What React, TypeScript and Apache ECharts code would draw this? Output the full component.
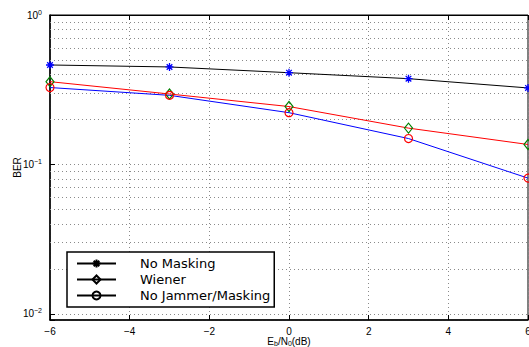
import React, { useEffect, useRef } from 'react';
import * as echarts from 'echarts';

const xValues = [-6, -3, 0, 3, 6];
const noMasking = [0.463, 0.449, 0.411, 0.375, 0.325];
const wiener = [0.358, 0.296, 0.244, 0.175, 0.136];
const noJammer = [0.327, 0.29, 0.222, 0.149, 0.081];
const minorGridValues = [0.02, 0.03, 0.04, 0.05, 0.06, 0.07, 0.08, 0.09, 0.2, 0.3, 0.4, 0.5, 0.6, 0.7, 0.8, 0.9];
const seriesNames = ['No Masking', 'Wiener', 'No Jammer/Masking'];

const FONT = 'Liberation Sans, Arial, sans-serif';
const ASTERISK = 'path://M5,0L5,10M0,5L10,5M1.5,1.5L8.5,8.5M1.5,8.5L8.5,1.5';

export default function App() {
  const ref = useRef<HTMLDivElement>(null);
  useEffect(() => {
    if (!ref.current) return;
    const chart = echarts.init(ref.current, undefined, { renderer: 'svg' });
    const pairs = (ys: number[]) => xValues.map((x, i) => [x, ys[i]]);
    const gridDot = { color: '#8a8a8a', type: [1, 3] as any, width: 1 };
    chart.setOption({
      animation: false,
      backgroundColor: '#fff',
      grid: {
        left: 50, right: 1, top: 15, bottom: 27,
        outerBoundsMode: 'none',
        containLabel: false,
        show: true, borderColor: '#000', borderWidth: 1, backgroundColor: 'transparent',
      },
      legend: {
        orient: 'vertical',
        left: 67,
        top: 252,
        padding: [5, 4, 5, 9],
        itemWidth: 39,
        itemHeight: 10,
        itemGap: 3,
        backgroundColor: '#fff',
        borderColor: '#000',
        borderWidth: 1.5,
        borderRadius: 0,
        textStyle: { fontFamily: 'DejaVu Sans, sans-serif', fontSize: 13, color: '#000', padding: [0, 0, 0, 19] },
        data: [
          { name: seriesNames[0], itemStyle: { color: '#000', borderColor: '#000' }, lineStyle: { color: '#000' } },
          { name: seriesNames[1], itemStyle: { color: 'rgba(0,0,0,0)', borderColor: '#000' }, lineStyle: { color: '#000' } },
          { name: seriesNames[2], itemStyle: { color: 'rgba(0,0,0,0)', borderColor: '#000' }, lineStyle: { color: '#000' } },
        ],
      },
      xAxis: [
        {
          type: 'value',
          min: -6,
          max: 6,
          interval: 2,
          name: 'E{sub|b}/N{sub|0}(dB)',
          nameLocation: 'middle',
          nameGap: 15,
          nameMoveOverlap: false,
          nameTextStyle: {
            fontFamily: FONT,
            fontSize: 10,
            color: '#000',
            rich: { sub: { fontFamily: FONT, fontSize: 7, verticalAlign: 'bottom', padding: [5, 0, 0, 0], color: '#000' } },
          },
          axisLine: { show: true, onZero: false, lineStyle: { color: '#000', width: 1.5 } },
          axisTick: { show: true, inside: true, length: 5, lineStyle: { color: '#000' } },
          axisLabel: {
            fontFamily: FONT,
            fontSize: 10,
            color: '#000',
            margin: 6,
            formatter: (v: number) => (v < 0 ? '\u2212' + Math.abs(v) : String(v)),
          },
          splitLine: { show: true, lineStyle: gridDot },
        },
        {
          type: 'value',
          position: 'top',
          min: -6,
          max: 6,
          interval: 2,
          axisLine: { show: true, onZero: false, lineStyle: { color: '#000', width: 1 } },
          axisTick: { show: true, inside: true, length: 5, lineStyle: { color: '#000' } },
          axisLabel: { show: false },
          splitLine: { show: false },
        },
      ],
      yAxis: {
        type: 'log',
        logBase: 10,
        min: 0.0091,
        max: 1,
        name: 'BER',
        nameLocation: 'middle',
        nameGap: 28,
        nameMoveOverlap: false,
        nameTextStyle: { fontFamily: FONT, fontSize: 10, color: '#000' },
        axisLine: { show: true, onZero: false, lineStyle: { color: '#000', width: 1.5 } },
        axisTick: { show: true, inside: true, length: 5, lineStyle: { color: '#000' } },
        axisLabel: {
          fontFamily: FONT,
          fontSize: 10,
          color: '#000',
          margin: 8,
          formatter: (v: number) => {
            const l = Math.log10(v);
            const e = Math.round(l);
            if (Math.abs(l - e) > 0.01) return '';
            return '{b|10}{sup|' + (e < 0 ? '\u2212' + Math.abs(e) : String(e)) + '}';
          },
          rich: {
            b: { fontFamily: FONT, fontSize: 10, color: '#000' },
            sup: { fontFamily: FONT, fontSize: 7, color: '#000', verticalAlign: 'top', padding: [0, 0, 6, 0] },
          },
        },
        splitLine: { show: true, lineStyle: gridDot },
      },
      series: [
        {
          name: seriesNames[0],
          type: 'line',
          data: pairs(noMasking),
          symbol: ASTERISK,
          symbolSize: 8,
          lineStyle: { color: '#000', width: 1 },
          itemStyle: { color: 'rgba(0,0,0,0)', borderColor: '#0000ff', borderWidth: 1.3 },
          z: 5,
          markLine: {
            silent: true,
            symbol: 'none',
            label: { show: false },
            lineStyle: gridDot,
            z: 1,
            data: minorGridValues.map((v) => ({ yAxis: v })),
          },
        },
        {
          name: seriesNames[1],
          type: 'line',
          data: pairs(wiener),
          symbol: 'diamond',
          symbolSize: [8, 10],
          lineStyle: { color: '#ff0000', width: 1 },
          itemStyle: { color: 'rgba(0,0,0,0)', borderColor: '#008000', borderWidth: 1.2 },
          z: 5,
        },
        {
          name: seriesNames[2],
          type: 'line',
          data: pairs(noJammer),
          symbol: 'circle',
          symbolSize: 8,
          lineStyle: { color: '#0000ff', width: 1 },
          itemStyle: { color: 'rgba(0,0,0,0)', borderColor: '#ff0000', borderWidth: 1.2 },
          z: 5,
        },
      ],
    });
    return () => chart.dispose();
  }, []);
  return <div ref={ref} style={{ position: 'fixed', left: 0, top: 0, width: 529, height: 347 }} />;
}
